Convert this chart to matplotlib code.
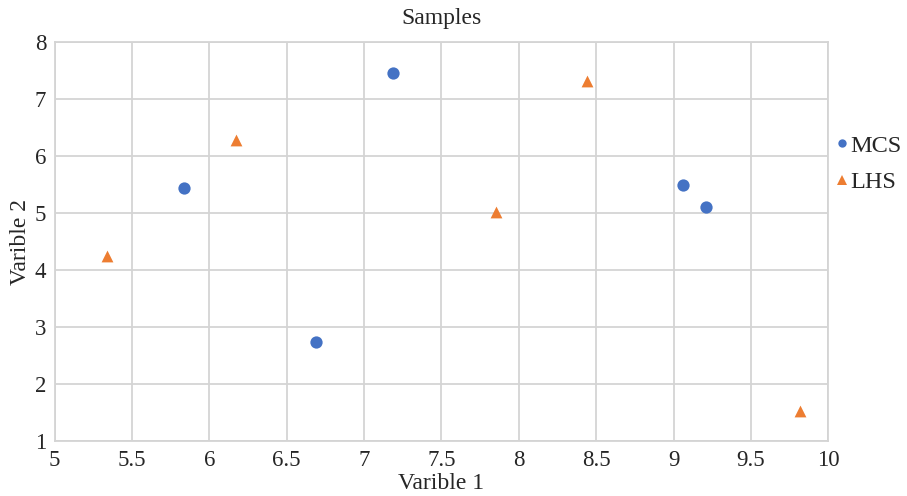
import matplotlib
matplotlib.use("Agg")
import matplotlib.pyplot as plt
from matplotlib.lines import Line2D

# Sample points drawn by each sampling method
mcs_x = [5.84, 7.19, 6.69, 9.06, 9.21]
mcs_y = [5.45, 7.46, 2.74, 5.50, 5.11]
lhs_x = [6.17, 8.44, 7.85, 5.34, 9.82]
lhs_y = [6.29, 7.32, 5.02, 4.25, 1.53]
series_names = ["MCS", "LHS"]
x_ticks = [5, 5.5, 6, 6.5, 7, 7.5, 8, 8.5, 9, 9.5, 10]
y_ticks = [1, 2, 3, 4, 5, 6, 7, 8]

blue = "#4472C4"
orange = "#ED7D31"
grid_c = "#D4D4D4"
text_c = "#262626"

plt.rcParams["font.family"] = ["Liberation Serif", "DejaVu Serif"]

W, H, DPI = 907, 496, 100
fig = plt.figure(figsize=(W / DPI, H / DPI), dpi=DPI)
left, right, top, bottom = 54.5, 828.3, 42.3, 441.3
ax = fig.add_axes([left / W, 1 - bottom / H, (right - left) / W, (bottom - top) / H])

ax.set_xlim(5, 10)
ax.set_ylim(1, 8)
ax.set_xticks(x_ticks)
ax.set_xticklabels([f"{t:g}" for t in x_ticks])
ax.set_yticks(y_ticks)
ax.grid(True, color=grid_c, linewidth=1.3)
ax.set_axisbelow(True)
for s in ax.spines.values():
    s.set_color(grid_c)
    s.set_linewidth(1.3)
ax.tick_params(length=0, labelsize=16.5, colors=text_c, pad=6)

ax.scatter(mcs_x, mcs_y, s=78, marker="o", color=blue, linewidths=0, zorder=3)
ax.scatter(lhs_x, lhs_y, s=72, marker="^", color=orange, linewidths=0, zorder=3)

ax.set_title("Samples", fontsize=17, color=text_c, pad=13)
ax.set_xlabel("Varible 1", fontsize=17, color=text_c, labelpad=2)
ax.set_ylabel("Varible 2", fontsize=17, color=text_c, labelpad=3)

handles = [
    Line2D([], [], marker="o", linestyle="none", color=blue, markersize=6, markeredgewidth=0),
    Line2D([], [], marker="^", linestyle="none", color=orange, markersize=6.5, markeredgewidth=0),
]
fig.legend(handles, series_names, loc="center left", bbox_to_anchor=(836 / W, 1 - 164 / H),
           frameon=False, fontsize=17.5, handlelength=0.5, handletextpad=0.1,
           labelspacing=0.6, borderaxespad=0, borderpad=0, labelcolor=text_c)

fig.savefig("out.png", dpi=DPI)
